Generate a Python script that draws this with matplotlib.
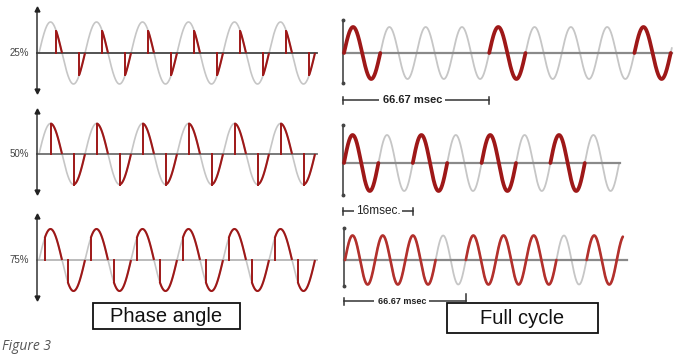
import numpy as np
import matplotlib.pyplot as plt
from matplotlib.patches import Rectangle

W, H = 680, 358

# phase-angle control (left): firing angle in each half cycle
duty_labels = ['25%', '50%', '75%']
firing_angles = [135, 90, 45]
left_cycles = 6

# full-cycle control (right): which cycles are switched on
full_on = [[1, 0, 0, 0, 1, 0, 0, 0, 1, 0],
           [1, 0, 1, 0, 1, 0, 1, 0],
           [1, 1, 1, 0, 1, 1, 1, 0, 1, 1]]
right_cycles = [9.03, 8.0, 9.2]
dim_labels = ['66.67 msec', '16msec.', '66.67 msec']
dim_spans = [4, 2, 4]

RED = '#9e1818'
GRAY = '#c6c6c6'

fig = plt.figure(figsize=(W / 100, H / 100), dpi=100)


def panel(x0, axis_y, period, amp, box):
    # box = left, right, top, bottom in pixels
    l, r, t, b = box
    ax = fig.add_axes([l / W, 1 - b / H, (r - l) / W, (b - t) / H])
    ax.set_xlim((l - x0) / period, (r - x0) / period)
    ax.set_ylim((axis_y - b) / amp, (axis_y - t) / amp)
    ax.axis('off')
    return ax


# ---- left: phase angle ----
left_geo = [(53, 31), (154, 30.5), (260, 31)]
axis_cols = ['#444444', '#6e6e6e', '#b5b5b5']
for i, (cy, amp) in enumerate(left_geo):
    ax = panel(39, cy, 46, amp, (0, 330, cy - 52, cy + 45))
    t = np.linspace(0, left_cycles, 1200)
    ax.plot(t, np.sin(2 * np.pi * t), color=GRAY, lw=1.2)
    ax.plot([-0.04, 6.05], [0, 0], color=axis_cols[i], lw=1.3)
    ax.plot([-0.04, -0.04], [-1.24, 1.42], color='#333333', lw=1.1)
    ax.plot([-0.04], [1.42], marker='^', ms=3.5, color='#222222')
    ax.plot([-0.04], [-1.24], marker='v', ms=3.5, color='#222222')
    fa = firing_angles[i]
    for k in range(2 * left_cycles):
        deg = np.linspace(k * 180 + fa, (k + 1) * 180, 60)
        x = deg / 360
        y = np.sin(np.radians(deg))
        ax.plot(x, y, color=RED, lw=1.5, solid_capstyle='butt')
        ax.plot([x[0], x[0]], [0, y[0]], color=RED, lw=1.4)
    ax.text(-0.22, 0, duty_labels[i], ha='right', va='center',
            fontsize=7, color='#444444', family='Liberation Sans')

# ---- right: full cycle ----
right_geo = [(344, 53, 36.3, 26, (20, 83), 672, 2.7),
             (344, 163, 34.4, 28, (125, 195), 620, 2.7),
             (345, 260, 30.2, 24.5, (228, 286), 627, 1.9)]
dim_y = [100, 211, 301]
dim_fs = [8, 8.5, 6.5]
for i, (x0, cy, per, amp, (vt, vb), hx, rlw) in enumerate(right_geo):
    ax = panel(x0, cy, per, amp, (335, 680, cy - 45, cy + 55))
    n = right_cycles[i]
    t = np.linspace(0, n, 1500)
    ax.plot(t, np.sin(2 * np.pi * t), color=GRAY, lw=1.3)
    ax.plot([(x0 - 1 - x0) / per, (hx - x0) / per], [0, 0], color='#8a8a8a', lw=1.6)
    vx = (x0 - 1 - x0) / per
    ax.plot([vx, vx], [(cy - vb) / amp, (cy - vt) / amp], color='#555555', lw=1.3)
    ax.plot([vx, vx], [(cy - vb) / amp, (cy - vt) / amp], 'o', ms=1.8, color='#444444')
    for c, on in enumerate(full_on[i]):
        if on and c < n:
            tt = np.linspace(c, min(c + 1, n), 200)
            ax.plot(tt, np.sin(2 * np.pi * tt), color=RED if i < 2 else '#b3302c',
                    lw=rlw, solid_capstyle='round')
    # dimension line
    yy = (cy - dim_y[i]) / amp
    h = 3.5 / amp
    span = dim_spans[i]
    ax.plot([vx, span], [yy, yy], color='#333333', lw=1.1)
    ax.plot([vx, vx], [yy - h, yy + h], color='#333333', lw=1.1)
    ax.plot([span, span], [yy - h, yy + h] if i < 2 else [yy, yy + 2 * h],
            color='#333333', lw=1.1)
    ax.text(span * (0.47 if i != 1 else 0.5), yy, dim_labels[i], ha='center', va='center',
            fontsize=dim_fs[i], color='#222222',
            fontweight='normal' if i == 1 else 'bold', family='Liberation Sans',
            bbox=dict(fc='white', ec='none', pad=2.5 if i != 1 else 1.2))

# ---- boxes and caption ----
ov = fig.add_axes([0, 0, 1, 1])
ov.set_xlim(0, W)
ov.set_ylim(H, 0)
ov.axis('off')
ov.add_patch(Rectangle((93, 303), 147, 26, fc='white', ec='#111111', lw=1.3))
ov.text(166.5, 316.5, 'Phase angle', ha='center', va='center', fontsize=14.5,
        family='Liberation Sans', color='#111111')
ov.add_patch(Rectangle((447, 303), 151, 30, fc='white', ec='#111111', lw=1.3))
ov.text(522.5, 318, 'Full cycle', ha='center', va='center', fontsize=14.5,
        family='Liberation Sans', color='#111111')
ov.text(2, 346, 'Figure 3', ha='left', va='center', fontsize=10, style='italic',
        family='Open Sans', color='#555555')

fig.savefig('out.png', dpi=100)
